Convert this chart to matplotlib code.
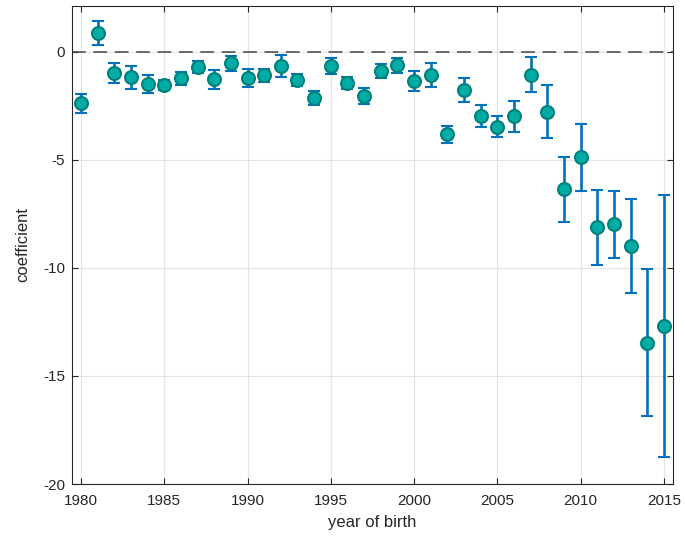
import numpy as np
import matplotlib
matplotlib.use('Agg')
import matplotlib.pyplot as plt

plt.rcParams['font.family'] = ['Liberation Sans', 'DejaVu Sans']
plt.rcParams['axes.unicode_minus'] = False

# birth-year coefficients with their confidence half-widths
years = np.arange(1980, 2016)
coef = [-2.39, 0.86, -1.00, -1.19, -1.49, -1.54, -1.23, -0.72, -1.28, -0.54,
        -1.23, -1.08, -0.66, -1.31, -2.14, -0.65, -1.45, -2.03, -0.89, -0.62,
        -1.34, -1.08, -3.82, -1.77, -2.96, -3.46, -2.99, -1.06, -2.77, -6.37,
        -4.88, -8.13, -7.98, -8.98, -13.46, -12.69]
err = [0.44, 0.55, 0.46, 0.55, 0.40, 0.25, 0.30, 0.28, 0.45, 0.35,
       0.41, 0.30, 0.50, 0.28, 0.32, 0.37, 0.27, 0.37, 0.31, 0.35,
       0.46, 0.55, 0.38, 0.55, 0.50, 0.50, 0.71, 0.82, 1.24, 1.52,
       1.54, 1.75, 1.55, 2.19, 3.39, 6.05]

fig = plt.figure(figsize=(6.85, 5.4), dpi=100)
ax = fig.add_axes([0.105, 0.1037, 0.8775, 0.8853])

ax.axhline(0, color='#444444', linestyle=(0, (9, 5)), linewidth=1.1, zorder=1)
ax.errorbar(years, coef, yerr=err, fmt='o', color='#0072BD', ecolor='#0072BD',
            elinewidth=1.9, capsize=4.3, capthick=1.9,
            markersize=9.3, markerfacecolor='#00ABA5', markeredgecolor='#00807A',
            markeredgewidth=1.5, zorder=3)

ax.set_xlim(1979.46, 2015.54)
ax.set_ylim(-20, 2.12)
ax.set_xticks(np.arange(1980, 2016, 5))
ax.set_yticks([-20, -15, -10, -5, 0])
ax.grid(True, color='#e3e3e3', linewidth=0.8)
ax.set_axisbelow(True)

ax.tick_params(direction='in', top=True, right=True, length=4.5, width=0.8,
               colors='#262626', labelsize=11)
ax.tick_params(axis='x', pad=7)
ax.tick_params(axis='y', pad=5)
for s in ax.spines.values():
    s.set_color('#262626')
    s.set_linewidth(0.8)

ax.set_xlabel('year of birth', fontsize=12, color='#262626', labelpad=5)
ax.set_ylabel('coefficient', fontsize=12, color='#262626', labelpad=9)

fig.savefig('out.png', dpi=100)
